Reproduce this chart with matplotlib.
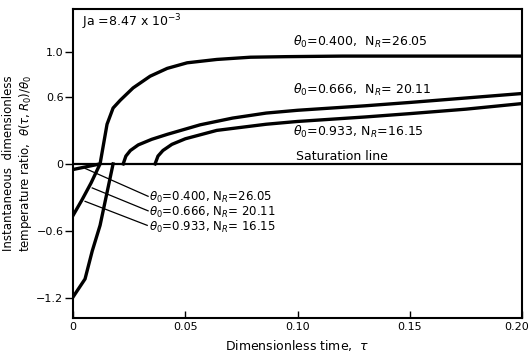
import matplotlib
matplotlib.use("Agg")
from matplotlib import pyplot as plt
from matplotlib.transforms import ScaledTranslation

# Curvas positivas (tau, theta/theta0)
tau_400 = [0.0, 0.012, 0.0151, 0.0178, 0.021, 0.0267, 0.0343, 0.0419, 0.0508, 0.064, 0.079, 0.095, 0.12, 0.16, 0.20]
th_400 = [-0.05, 0.0, 0.355, 0.50, 0.57, 0.68, 0.785, 0.855, 0.905, 0.935, 0.955, 0.96, 0.965, 0.965, 0.965]

tau_666 = [0.0223, 0.0235, 0.0255, 0.029, 0.035, 0.042, 0.0566, 0.071, 0.086, 0.10, 0.13, 0.15, 0.175, 0.20]
th_666 = [0.0, 0.07, 0.12, 0.17, 0.22, 0.265, 0.35, 0.41, 0.455, 0.48, 0.52, 0.55, 0.59, 0.63]

tau_933 = [0.0365, 0.0378, 0.040, 0.044, 0.050, 0.064, 0.086, 0.10, 0.13, 0.15, 0.175, 0.20]
th_933 = [0.0, 0.07, 0.12, 0.175, 0.225, 0.30, 0.355, 0.38, 0.42, 0.45, 0.49, 0.54]

# Tramos negativos
tau_b = [0.0, 0.004, 0.008, 0.012]
th_b = [-0.46, -0.32, -0.17, 0.0]
tau_c = [0.0, 0.0053, 0.0085, 0.012, 0.0178]
th_c = [-1.19, -1.03, -0.78, -0.55, 0.0]

# Lineas de referencia de etiquetas
ptr_x = [[0.0053, 0.0334], [0.0085, 0.0334], [0.0053, 0.033]]
ptr_y = [[-0.04, -0.29], [-0.215, -0.42], [-0.335, -0.55]]
lbl_low = [r"$\theta_0$=0.400, N$_R$=26.05", r"$\theta_0$=0.666, N$_R$= 20.11", r"$\theta_0$=0.933, N$_R$= 16.15"]
lbl_low_y = [-0.30, -0.435, -0.57]

lbl_up = [r"$\theta_0$=0.400,  N$_R$=26.05", r"$\theta_0$=0.666,  N$_R$= 20.11", r"$\theta_0$=0.933, N$_R$=16.15", "Saturation line"]
lbl_up_y = [1.09, 0.66, 0.29, 0.07]

xticks = [0, 0.05, 0.10, 0.15, 0.20]
xticklabels = ["0", "0.05", "0.10", "0.15", "0.20"]
yticks = [-1.2, -0.6, 0, 0.6, 1.0]
yticklabels = ["\u22121.2", "\u22120.6", "0", "0.6", "1.0"]

fig = plt.figure(figsize=(5.3, 3.59), dpi=100)
ax = fig.add_axes([0.138, 0.114, 0.847, 0.862])

lw = 2.4
ax.plot(tau_400, th_400, color="black", lw=lw)
ax.plot(tau_666, th_666, color="black", lw=lw)
ax.plot(tau_933, th_933, color="black", lw=lw)
ax.plot(tau_b, th_b, color="black", lw=lw)
ax.plot(tau_c, th_c, color="black", lw=lw)
ax.axhline(0, color="black", lw=1.6)

for i in range(3):
    ax.plot(ptr_x[i], ptr_y[i], color="black", lw=0.9)
    ax.text(0.0337, lbl_low_y[i], lbl_low[i], fontsize=8.5, va="center", ha="left")

for i in range(4):
    ax.text(0.098 if i < 3 else 0.0995, lbl_up_y[i], lbl_up[i], fontsize=9, va="center", ha="left")

ax.text(0.004, 1.27, r"Ja =8.47 x 10$^{-3}$", fontsize=9, va="center", ha="left")

ax.set_xlim(0, 0.20)
ax.set_ylim(-1.38, 1.39)
ax.set_xticks(xticks)
ax.set_xticklabels(xticklabels, fontsize=8)
ax.set_yticks(yticks)
ax.set_yticklabels(yticklabels, fontsize=8)
ax.tick_params(axis="x", direction="in", length=5, width=1, pad=3)
ax.tick_params(axis="y", direction="out", length=6, width=1, pad=1)
for s in ax.spines.values():
    s.set_linewidth(1.5)

# la ultima etiqueta queda pegada al borde
last = ax.get_xticklabels()[-1]
last.set_transform(last.get_transform() + ScaledTranslation(-4 / 72, 0, fig.dpi_scale_trans))

ax.set_xlabel(r"Dimensionless time,  $\tau$", fontsize=9, labelpad=4)
ax.set_ylabel("Instantaneous  dimensionless\n" + r"temperature ratio,  $\theta(\tau,R_0)/\theta_0$", fontsize=8.5, labelpad=2, linespacing=1.1)

plt.savefig("out.png", dpi=100)
